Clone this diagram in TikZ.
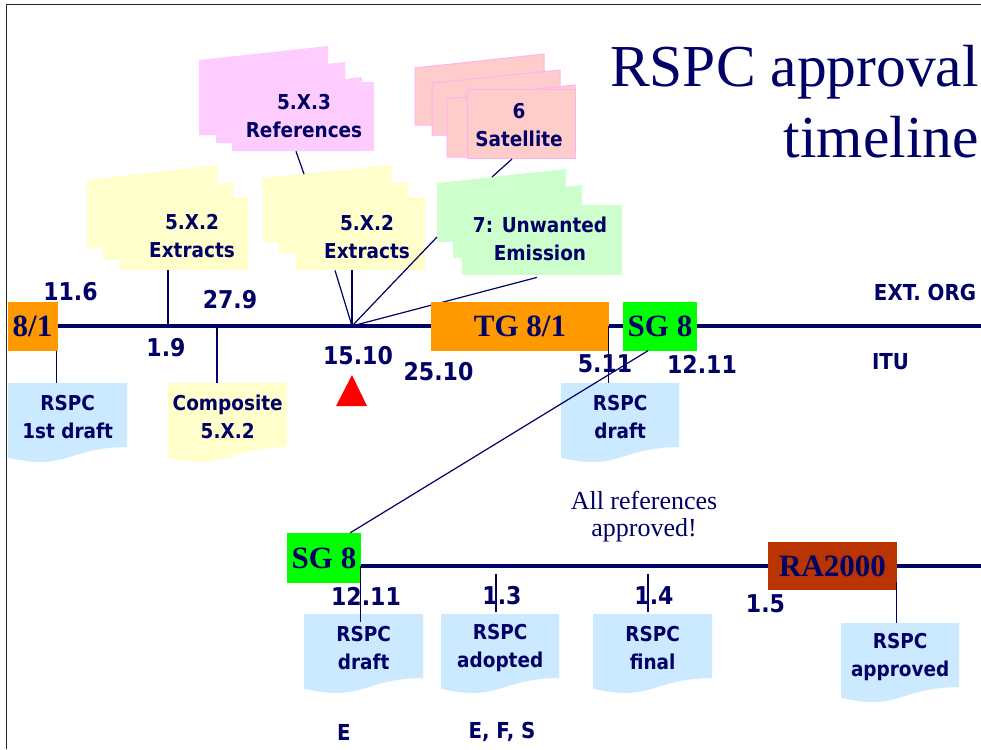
\documentclass[tikz,border=0pt]{standalone}
\usepackage{fontspec}
\setmainfont{Liberation Serif}
\newfontfamily\labfont{DejaVu Sans}[FakeStretch=0.9]
\usetikzlibrary{calc,backgrounds}

\definecolor{navy}{RGB}{0,0,102}
\definecolor{yel}{RGB}{255,255,204}
\definecolor{pinkpg}{RGB}{255,204,255}
\definecolor{salmon}{RGB}{255,204,204}
\definecolor{salmonedge}{RGB}{255,176,240}
\definecolor{mint}{RGB}{204,255,204}
\definecolor{sky}{RGB}{204,234,255}
\definecolor{orng}{RGB}{255,153,0}
\definecolor{lime}{RGB}{0,255,0}
\definecolor{brick}{RGB}{185,52,0}

% slanted sheet of a stack: x0, x1, top-left y, top-right y, bottom y, style
\newcommand\slantpage[6]{\path[#6] (#1,#3) -- (#2,#4) -- (#2,#5) -- (#1,#5) -- cycle;}
% document sheet with wavy lower edge: x, y, width, height, colour
\newcommand\docsheet[5]{\fill[#5] (#1,#2) -- ({#1+#3},#2) -- ({#1+#3},{#2+0.802*#4})
  .. controls ({#1+0.5*#3},{#2+0.802*#4}) and ({#1+0.5*#3},{#2+1.107*#4}) .. (#1,{#2+0.934*#4}) -- cycle;}

\begin{document}
\begin{tikzpicture}[x=1pt,y=-1pt,
  lab/.style={font=\labfont\bfseries\fontsize{20.5}{28}\selectfont,text=navy,align=center,inner sep=0pt},
  num/.style={font=\labfont\bfseries\fontsize{24.5}{28}\selectfont,text=navy,inner sep=0pt},
  tag/.style={font=\labfont\bfseries\fontsize{22}{26}\selectfont,text=navy,inner sep=0pt},
  evbox/.style={font=\bfseries\fontsize{31}{31}\selectfont,text=navy,inner sep=0pt,minimum height=49pt},
  docnode/.style={lab,anchor=north west,minimum width=#1,minimum height=68pt},
  front/.style={anchor=north west,inner sep=0pt,minimum width=#1},
  wire/.style={draw=navy,line width=1.2pt},
  tline/.style={draw=navy,line width=4pt},
  frame/.style={draw=black!85,line width=1.8pt},
]
\useasboundingbox (0,0) rectangle (981,749);

% frame edges
\draw[frame] (6.5,749) -- (6.5,4.5) -- (981,4.5);

% ---- stacks of sheets ----
% 5.X.2 Extracts (left)
\slantpage{87}{217}{180}{165}{248}{fill=yel}
\slantpage{103}{233}{197}{182}{260}{fill=yel}
\node[front=128, minimum height=73pt, fill=yel] (s1) at (120,197) {};
\node[lab] (s1t) at (192,236) {5.X.2\\Extracts};

% 5.X.2 Extracts (middle)
\slantpage{263}{392}{178}{165}{242}{fill=yel}
\slantpage{279}{408}{194}{182}{253}{fill=yel}
\node[front=129, minimum height=73pt, fill=yel] (s2) at (296,197) {};
\node[lab] (s2t) at (367,237) {5.X.2\\Extracts};

% 5.X.3 References
\slantpage{199}{328}{60}{46}{135}{fill=pinkpg}
\slantpage{216}{345}{76}{62}{143}{fill=pinkpg}
\slantpage{232}{362}{92}{77}{151}{fill=pinkpg}
\node[front=142, minimum height=69pt, fill=pinkpg] (s3) at (232,82) {};
\node[lab] (s3t) at (304,116) {5.X.3\\References};

% 6 Satellite
\slantpage{415}{544}{68}{54}{125}{fill=salmon,draw=salmonedge,line width=1pt}
\slantpage{432}{560}{83}{70}{135}{fill=salmon,draw=salmonedge,line width=1pt}
\slantpage{447}{575}{99}{85}{157}{fill=salmon,draw=salmonedge,line width=1pt}
\node[front=108, minimum height=69pt, fill=salmon, draw=salmonedge, line width=1pt] (s4) at (467,89) {};
\node[lab] (s4t) at (519,125) {6\\Satellite};

% 7: Unwanted Emission
\slantpage{437}{566}{183}{169}{242}{fill=mint}
\slantpage{453}{582}{199}{185}{258}{fill=mint}
\node[front=160, minimum height=70pt, fill=mint] (s5) at (462,205) {};
\node[lab] (s5t) at (540,239) {7: Unwanted\\Emission};

% ---- document sheets ----
\docsheet{8}{383}{119}{80}{sky}
\node[docnode=119] (d1) at (8,383) {RSPC\\1st draft};
\docsheet{168}{383}{119}{80}{yel}
\node[docnode=119] (comp) at (168,383) {Composite\\5.X.2};
\docsheet{561}{383}{118}{80}{sky}
\node[docnode=118] (dtop) at (561,383) {RSPC\\draft};
\docsheet{304}{614}{119}{80}{sky}
\node[docnode=119] (dl1) at (304,614) {RSPC\\draft};
\docsheet{441}{614}{118}{80}{sky}
\node[docnode=118] (dl2) at (441,614) {RSPC\\adopted};
\docsheet{593}{614}{119}{80}{sky}
\node[docnode=119] (dl3) at (593,614) {RSPC\\final};
\docsheet{841}{623}{118}{80}{sky}
\node[docnode=118] (dl4) at (841,623) {RSPC\\approved};

% ---- points on the timelines ----
\coordinate (tb) at (981,0);
\coordinate (t19) at (168,326);
\coordinate (t279) at (217,326);
\coordinate (t1510) at (352,326);
\coordinate (u13) at (496,566);
\coordinate (u14) at (648,566);
\coordinate (s2top) at (304,174);
\coordinate (s5top) at (492,177);
\coordinate (s5side) at (437,237);

% ---- event boxes ----
\node[evbox, fill=orng, minimum width=50pt] (b81) at (32.5,326) {8/1};
\node[evbox, fill=orng, minimum width=178pt] (tg) at (520,326) {TG 8/1};
\node[evbox, fill=lime, minimum width=74pt] (sg1) at (660,326) {SG 8};
\node[evbox, fill=lime, minimum width=74pt, minimum height=50pt] (sg2) at (324,558) {SG 8};
\node[evbox, fill=brick, minimum width=129pt, minimum height=48pt] (ra) at (832.5,566) {RA2000};

% ---- timelines and wires running behind the boxes ----
\begin{scope}[on background layer]
  \draw[tline] (b81.east) -- (b81.east -| tb);
  \draw[tline] (sg2.east |- ra.west) -- (ra.west -| tb);
  \draw[wire] (t1510) -- ($(s5.south west)+(75,2)$);
\end{scope}

% ---- connectors ----
\coordinate (b81s) at ($(b81.south east)+(-1,0)$);
\draw[wire] (b81s) -- (b81s |- d1.north);
\draw[wire] (s1.south -| t19) -- (t19);
\draw[wire] (t279) -- (t279 |- comp.north);
\draw[wire] ($(s3.south west)+(64,0)$) -- (s2top);
\draw[wire] ($(s4.south west)+(45,0)$) -- (s5top);
\draw[wire] (t1510) -- ($(s2.south west)+(39,0)$);
\draw[wire] (t1510) -- ($(s2.south west)+(56,0)$);
\draw[wire] (t1510) -- (s5side);
\coordinate (tge) at ($(tg.east)+(-1,0)$);
\draw[wire] (tge) -- (tge |- dtop.north);
\draw[wire] ($(sg1.south)+(-12,0)$) -- ($(sg2.north east)+(-11,0)$);
\coordinate (sg2e) at ($(sg2.east)+(-1,8)$);
\draw[wire] (sg2e) -- ($(sg2e |- dl1.north)+(0,8)$);
\draw[wire] ($(u13)+(0,8)$) -- ($(u13 |- dl2.north)+(0,-2)$);
\draw[wire] ($(u14)+(0,8)$) -- ($(u14 |- dl3.north)+(0,-2)$);
\coordinate (rae) at ($(ra.south east)+(-1,-8)$);
\draw[wire] (rae) -- (rae |- dl4.north);

% ---- dates and tags ----
\node[num] (n116) at (70.5,292) {11.6};
\node[num] (n279) at (230,300) {27.9};
\node[num] (n19) at (166,348) {1.9};
\node[num] (n1510) at (358,356) {15.10};
\node[num] (n2510) at (438.5,372) {25.10};
\node[num] (n511) at (605,364) {5.11};
\node[num] (n1211a) at (702,364) {12.11};
\node[tag] (ext) at (925,292) {EXT. ORG};
\node[tag] (itu) at (890.5,362) {ITU};
\node[num] (n1211b) at (366,596) {12.11};
\node[num] (n13) at (502,596) {1.3};
\node[num] (n14) at (654,596) {1.4};
\node[num] (n15) at (765.5,604) {1.5};
\node[tag] (le) at (344,732) {E};
\node[tag] (lefs) at (502,732) {E, F, S};

% milestone marker
\fill[red] (352,375) -- (367,406) -- (336,406) -- cycle;

% note and title
\node[font=\fontsize{26}{27}\selectfont, text=navy, align=center, inner sep=0pt] (note) at (644,517) {All references\\approved!};
\node[font=\fontsize{59.5}{60}\selectfont, text=navy, anchor=base east, inner sep=0pt] (title1) at (979,87) {RSPC approval};
\node[font=\fontsize{59.5}{60}\selectfont, text=navy, anchor=base east, inner sep=0pt] (title2) at (979,157) {timeline};
\end{tikzpicture}
\end{document}
